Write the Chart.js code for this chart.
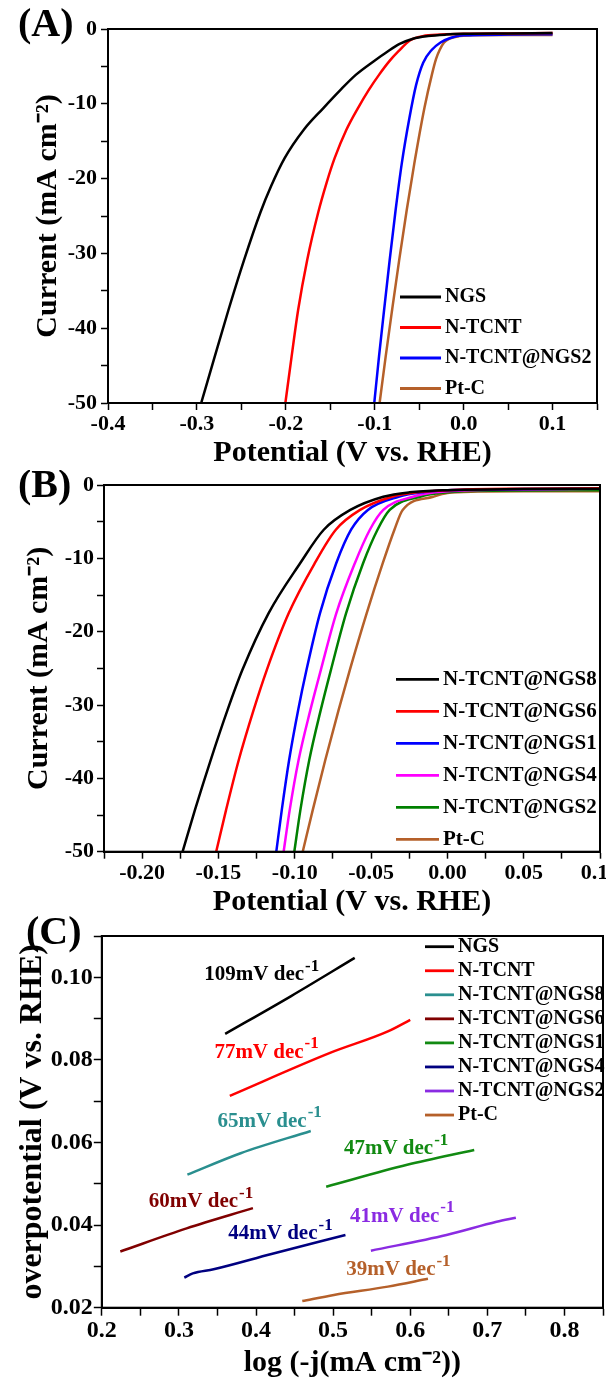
<!DOCTYPE html>
<html>
<head>
<meta charset="utf-8">
<script src="https://cdn.jsdelivr.net/npm/chart.js@4.4.0/dist/chart.umd.min.js"></script>
<style>
  body { margin: 0; background: #fff; width: 606px; height: 1383px; position: relative; overflow: hidden; }
  .panel { position: absolute; left: 0; width: 606px; }
</style>
</head>
<body>
<div class="panel" style="top:0;height:470px"><canvas id="chartA"></canvas></div>
<div class="panel" style="top:470px;height:450px"><canvas id="chartB"></canvas></div>
<div class="panel" style="top:900px;height:483px"><canvas id="chartC"></canvas></div>
<script>
// ---- panel A : polarization curves, [potential V, current mA cm-2]
var labelsA = ['NGS', 'N-TCNT', 'N-TCNT@NGS2', 'Pt-C'];
var colorsA = ['#000000', '#ff0000', '#0000ff', '#b5602a'];
var a_NGS = [[-0.2952,-50],[-0.2812,-44.3],[-0.2646,-37.6],[-0.247,-30.9],[-0.2285,-24.5],[-0.2165,-21],[-0.2015,-17.3],[-0.180,-13.5],[-0.158,-10.6],[-0.139,-8.2],[-0.121,-6.1],[-0.101,-4.3],[-0.0855,-3.0],[-0.072,-2.0],[-0.057,-1.3],[-0.040,-0.95],[-0.020,-0.75],[0.000,-0.65],[0.050,-0.6],[0.100,-0.55]];
var a_NTCNT = [[-0.2005,-50],[-0.1935,-43.8],[-0.1862,-37.6],[-0.176,-30.9],[-0.1635,-24.5],[-0.154,-20.5],[-0.1452,-17.3],[-0.132,-13.5],[-0.119,-10.6],[-0.107,-8.2],[-0.095,-6.1],[-0.0835,-4.3],[-0.0735,-3.0],[-0.060,-1.5],[-0.046,-0.95],[-0.025,-0.75],[0.000,-0.65],[0.050,-0.6],[0.100,-0.55]];
var a_NGS2 = [[-0.1005,-50],[-0.0952,-43.8],[-0.0895,-37.6],[-0.0832,-30.9],[-0.0765,-24.2],[-0.0696,-18],[-0.061,-11.9],[-0.0535,-7.5],[-0.0455,-4.5],[-0.036,-2.8],[-0.026,-1.8],[-0.015,-1.2],[0.000,-0.85],[0.050,-0.75],[0.100,-0.7]];
var a_PtC = [[-0.0945,-50],[-0.0877,-43.8],[-0.0805,-37.6],[-0.0725,-30.9],[-0.064,-24.2],[-0.0555,-18],[-0.044,-10.5],[-0.0355,-6.0],[-0.031,-4.0],[-0.027,-2.8],[-0.022,-1.8],[-0.015,-1.25],[-0.005,-0.95],[0.010,-0.85],[0.050,-0.8],[0.100,-0.8]];

// ---- panel B
var labelsB = ['N-TCNT@NGS8', 'N-TCNT@NGS6', 'N-TCNT@NGS1', 'N-TCNT@NGS4', 'N-TCNT@NGS2', 'Pt-C'];
var colorsB = ['#000000', '#ff0000', '#0000ff', '#ff00ff', '#008000', '#b5602a'];
var b_NGS8 = [[-0.1735,-50],[-0.1654,-44.3],[-0.1551,-37.5],[-0.1441,-30.7],[-0.1343,-25.2],[-0.1172,-17.5],[-0.0966,-10.7],[-0.081,-6.1],[-0.0636,-3.4],[-0.042,-1.6],[-0.025,-1.0],[0.000,-0.7],[0.050,-0.55],[0.100,-0.5]];
var b_NGS6 = [[-0.1515,-50],[-0.145,-44.3],[-0.1367,-37.5],[-0.127,-30.7],[-0.1183,-25.2],[-0.104,-17.5],[-0.087,-10.7],[-0.0731,-6.1],[-0.0572,-3.4],[-0.0363,-1.6],[-0.020,-1.0],[0.000,-0.7],[0.050,-0.5],[0.100,-0.45]];
var b_NGS1 = [[-0.1121,-50],[-0.1085,-44.3],[-0.1037,-37.5],[-0.0978,-30.7],[-0.0923,-25.2],[-0.0835,-17.5],[-0.0729,-10.7],[-0.0631,-6.1],[-0.0521,-3.4],[-0.032,-1.6],[-0.015,-0.95],[0.000,-0.7],[0.050,-0.55],[0.100,-0.5]];
var b_NGS4 = [[-0.1073,-50],[-0.1033,-44.3],[-0.0975,-37.5],[-0.0898,-30.7],[-0.0829,-25.2],[-0.0728,-17.5],[-0.0607,-10.7],[-0.0508,-6.1],[-0.042,-3.4],[-0.0225,-1.6],[-0.008,-1.0],[0.010,-0.75],[0.050,-0.6],[0.100,-0.5]];
var b_NGS2 = [[-0.1003,-50],[-0.0963,-44.3],[-0.0905,-37.5],[-0.083,-30.7],[-0.0763,-25.2],[-0.0664,-17.5],[-0.0553,-10.7],[-0.0458,-6.1],[-0.0378,-3.4],[-0.018,-1.6],[-0.005,-1.1],[0.010,-0.85],[0.050,-0.75],[0.100,-0.7]];
var b_PtC = [[-0.0948,-50],[-0.0882,-44.3],[-0.080,-37.5],[-0.0713,-30.7],[-0.0639,-25.2],[-0.0529,-17.5],[-0.0424,-10.7],[-0.0347,-6.1],[-0.0293,-3.4],[-0.0093,-1.6],[0.000,-1.1],[0.020,-0.9],[0.050,-0.85],[0.100,-0.85]];

// ---- panel C : Tafel plots, [log(-j), overpotential V]
var labelsC = ['NGS', 'N-TCNT', 'N-TCNT@NGS8', 'N-TCNT@NGS6', 'N-TCNT@NGS1', 'N-TCNT@NGS4', 'N-TCNT@NGS2', 'Pt-C'];
var colorsC = ['#000000', '#ff0000', '#2a8f8f', '#800000', '#128a12', '#000080', '#8a2be2', '#b5602a'];
var slopesC = [109, 77, 65, 60, 47, 44, 41, 39];
var c_NGS = [[0.360,0.0863],[0.445,0.0954],[0.528,0.1047]];
var c_NTCNT = [[0.366,0.0713],[0.496,0.0817],[0.571,0.0869],[0.600,0.0897]];
var c_NGS8 = [[0.311,0.0522],[0.380,0.0574],[0.471,0.0628]];
var c_NGS6 = [[0.224,0.0336],[0.310,0.0392],[0.396,0.0441]];
var c_NGS1 = [[0.491,0.0493],[0.596,0.0546],[0.683,0.0582]];
var c_NGS4 = [[0.307,0.0273],[0.318,0.0283],[0.345,0.0293],[0.420,0.0330],[0.516,0.0376]];
var c_NGS2 = [[0.549,0.0338],[0.647,0.0376],[0.712,0.0408],[0.737,0.0418]];
var c_PtC = [[0.460,0.0216],[0.501,0.0231],[0.571,0.0251],[0.623,0.0270]];

var FONT = '"Liberation Serif", "Times New Roman", serif';
Chart.defaults.font.family = FONT;
Chart.defaults.font.weight = 'bold';
Chart.defaults.color = '#000';

function curve(label, pts, color) {
  return {
    label: label,
    data: pts.map(function (p) { return { x: p[0], y: p[1] }; }),
    borderColor: color, backgroundColor: color,
    borderWidth: 2.5, pointRadius: 0, showLine: true,
    cubicInterpolationMode: 'monotone', fill: false
  };
}

function axis(o) {
  return {
    type: 'linear', position: o.pos, min: o.min, max: o.max,
    afterFit: function (s) {
      if (o.pos === 'bottom') s.height = o.fit; else s.width = o.fit;
      s.paddingLeft = 0; s.paddingRight = 0; s.paddingTop = 0; s.paddingBottom = 0;
    },
    grid: { display: true, drawOnChartArea: false, drawTicks: true, tickLength: o.tickLen, tickWidth: 1.5, color: '#000' },
    border: { display: true, color: '#000', width: 2 },
    ticks: {
      stepSize: o.step, autoSkip: false, maxRotation: 0, padding: o.pad, color: '#000',
      font: { size: o.fs, weight: 'bold' },
      callback: function (v) {
        var r = v / o.every;
        if (Math.abs(r - Math.round(r)) > 1e-6) return '';
        if (Math.abs(v) < 1e-9) v = 0;
        return v.toFixed(o.dec);
      }
    },
    title: { display: true, text: o.title, color: '#000', font: { size: o.tfs, weight: 'bold', lineHeight: 1 }, padding: o.tpad }
  };
}

// frame round the plot area
Chart.register({
  id: 'frame',
  afterDraw: function (chart) {
    var a = chart.chartArea, ctx = chart.ctx;
    ctx.save();
    ctx.strokeStyle = '#000'; ctx.lineWidth = 2;
    ctx.strokeRect(a.left, a.top, a.right - a.left, a.bottom - a.top);
    ctx.restore();
  }
});

// legend drawn inside the plot
Chart.register({
  id: 'inLegend',
  afterDraw: function (chart, args, o) {
    if (o.x0 === undefined) return;
    var ctx = chart.ctx;
    ctx.save();
    ctx.font = 'bold ' + o.size + 'px ' + FONT;
    ctx.textBaseline = 'middle';
    chart.data.datasets.forEach(function (ds, i) {
      var y = o.y0 + i * o.dy;
      ctx.strokeStyle = ds.borderColor; ctx.lineWidth = 2.8;
      ctx.beginPath(); ctx.moveTo(o.x0, y); ctx.lineTo(o.x1, y); ctx.stroke();
      ctx.fillStyle = '#000';
      ctx.fillText(ds.label, o.tx, y);
    });
    ctx.restore();
  }
});

// (A) (B) (C)
Chart.register({
  id: 'panelTag',
  afterDraw: function (chart, args, o) {
    if (!o.text) return;
    var ctx = chart.ctx;
    ctx.save();
    ctx.font = 'bold ' + o.size + 'px ' + FONT;
    ctx.textBaseline = 'middle';
    ctx.fillStyle = '#000';
    ctx.fillText(o.text, o.x, o.y);
    ctx.restore();
  }
});

// Tafel slope notes, placed in data coordinates
Chart.register({
  id: 'slopeNotes',
  afterDraw: function (chart, args, o) {
    if (!o.at) return;
    var ctx = chart.ctx, xs = chart.scales.x, ys = chart.scales.y;
    ctx.save();
    ctx.textBaseline = 'alphabetic';
    o.at.forEach(function (p, i) {
      var x = xs.getPixelForValue(p[0]), y = ys.getPixelForValue(p[1]);
      ctx.fillStyle = o.colors[i];
      ctx.font = 'bold ' + o.size + 'px ' + FONT;
      var base = o.values[i] + 'mV dec';
      ctx.fillText(base, x, y);
      var w = ctx.measureText(base).width;
      ctx.font = 'bold ' + Math.round(o.size * 0.8) + 'px ' + FONT;
      ctx.fillText('-1', x + w + 1, y - o.size * 0.45);
    });
    ctx.restore();
  }
});

function baseOptions(pad, xAx, yAx, plugins) {
  plugins.legend = { display: false };
  plugins.tooltip = { enabled: false };
  return {
    responsive: true, maintainAspectRatio: false, animation: false,
    layout: { padding: pad, autoPadding: false },
    scales: { x: xAx, y: yAx },
    plugins: plugins
  };
}

new Chart(document.getElementById('chartA'), {
  type: 'scatter',
  data: { datasets: [a_NGS, a_NTCNT, a_NGS2, a_PtC].map(function (d, i) { return curve(labelsA[i], d, colorsA[i]); }) },
  options: baseOptions({ top: 29, right: 9, left: 0, bottom: 0 },
    axis({ pos: 'bottom', min: -0.4, max: 0.15, step: 0.05, every: 0.1, dec: 1, fit: 67, tickLen: 7, pad: 1, fs: 22,
      title: 'Potential (V vs. RHE)', tfs: 30, tpad: { top: 0, bottom: 2 } }),
    axis({ pos: 'left', min: -50, max: 0, step: 5, every: 10, dec: 0, fit: 108, tickLen: 7, pad: 4, fs: 22,
      title: 'Current (mA cm\u207B\u00B2)', tfs: 30, tpad: { top: 33, bottom: 0 } }),
    { inLegend: { x0: 400, x1: 441, tx: 445, y0: 297, dy: 30.5, size: 20 },
      panelTag: { text: '(A)', x: 18, y: 26, size: 40 } })
});

new Chart(document.getElementById('chartB'), {
  type: 'scatter',
  data: { datasets: [b_NGS8, b_NGS6, b_NGS1, b_NGS4, b_NGS2, b_PtC].map(function (d, i) { return curve(labelsB[i], d, colorsB[i]); }) },
  options: baseOptions({ top: 15, right: 6, left: 0, bottom: 0 },
    axis({ pos: 'bottom', min: -0.225, max: 0.1, step: 0.025, every: 0.05, dec: 2, fit: 68.3, tickLen: 7, pad: 1, fs: 22,
      title: 'Potential (V vs. RHE)', tfs: 30, tpad: { top: 0, bottom: 3 } }),
    axis({ pos: 'left', min: -50, max: 0, step: 5, every: 10, dec: 0, fit: 104, tickLen: 7, pad: 3, fs: 22,
      title: 'Current (mA cm\u207B\u00B2)', tfs: 30, tpad: { top: 24, bottom: 0 } }),
    { inLegend: { x0: 396, x1: 439, tx: 443, y0: 209.3, dy: 32, size: 21 },
      panelTag: { text: '(B)', x: 18, y: 17, size: 40 } })
});

new Chart(document.getElementById('chartC'), {
  type: 'scatter',
  data: { datasets: [c_NGS, c_NTCNT, c_NGS8, c_NGS6, c_NGS1, c_NGS4, c_NGS2, c_PtC].map(function (d, i) { return curve(labelsC[i], d, colorsC[i]); }) },
  options: baseOptions({ top: 36, right: 3, left: 0, bottom: 0 },
    axis({ pos: 'bottom', min: 0.2, max: 0.85, step: 0.05, every: 0.1, dec: 1, fit: 75.3, tickLen: 8, pad: 1, fs: 24,
      title: 'log (-j(mA cm\u207B\u00B2))', tfs: 30, tpad: { top: 0, bottom: 5 } }),
    axis({ pos: 'left', min: 0.02, max: 0.11, step: 0.01, every: 0.02, dec: 2, fit: 101.8, tickLen: 8, pad: 1, fs: 24,
      title: 'overpotential (V vs. RHE)', tfs: 32, tpad: { top: 17, bottom: 0 } }),
    { inLegend: { x0: 425, x1: 454, tx: 458, y0: 46.7, dy: 24.05, size: 20 },
      panelTag: { text: '(C)', x: 26, y: 34, size: 40 },
      slopeNotes: {
        size: 21,
        values: slopesC,
        colors: colorsC,
        at: [[0.333,0.0993],[0.346,0.0805],[0.350,0.0638],[0.261,0.0443],[0.514,0.0571],[0.364,0.0366],[0.522,0.0408],[0.517,0.0279]]
      } })
});
</script>
</body>
</html>
